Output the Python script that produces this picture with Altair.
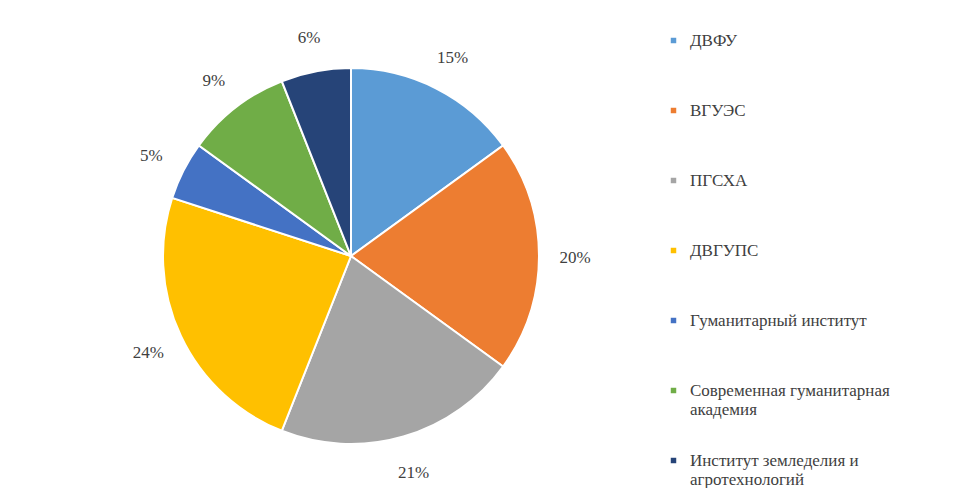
import altair as alt
import pandas as pd

names = ["ДВФУ", "ВГУЭС", "ПГСХА", "ДВГУПС", "Гуманитарный институт",
         "Современная гуманитарная академия", "Институт земледелия и агротехнологий"]
values = [15, 20, 21, 24, 5, 9, 6]
colors = ["#5B9BD5", "#ED7D31", "#A5A5A5", "#FFC000", "#4472C4", "#70AD47", "#264478"]
order = [0, 1, 2, 3, 4, 5, 6]

df = pd.DataFrame({"name": names, "value": values, "order": order})
df["label"] = df["value"].astype(str) + "%"

FONT = "Times New Roman, Tinos, DejaVu Serif, serif"

# every legend label gets two lines so that all rows have the same height
label_expr = (
    "datum.label == 'Современная гуманитарная академия' ? ['Современная гуманитарная', 'академия'] : "
    "datum.label == 'Институт земледелия и агротехнологий' ? ['Институт земледелия и', 'агротехнологий'] : "
    "[datum.label, ' ']"
)

base = alt.Chart(df).encode(
    theta=alt.Theta("value:Q", stack=True),
    order=alt.Order("order:Q"),
)

arc = base.mark_arc(outerRadius=188, stroke="white", strokeWidth=2).encode(
    color=alt.Color(
        "name:N",
        sort=names,
        scale=alt.Scale(domain=names, range=colors),
        legend=alt.Legend(
            title=None, orient="none", legendX=657, legendY=24, padding=0,
            symbolType="square", symbolSize=30, symbolStrokeWidth=0,
            labelFont=FONT, labelFontSize=17, labelColor="#404040",
            labelLimit=400, labelOffset=8, rowPadding=33, labelExpr=label_expr,
        ),
    ),
    x=alt.value(343),
    y=alt.value(248),
)

text = base.mark_text(
    radius=224, font=FONT, fontSize=17, color="#404040",
    align="center", baseline="middle",
).encode(
    text="label:N",
    x=alt.value(343),
    y=alt.value(250),
)

chart = (arc + text).properties(width=640, height=470, padding=0).configure_view(stroke=None)

chart.save("out.html", embed_options={"renderer": "svg", "actions": False})
